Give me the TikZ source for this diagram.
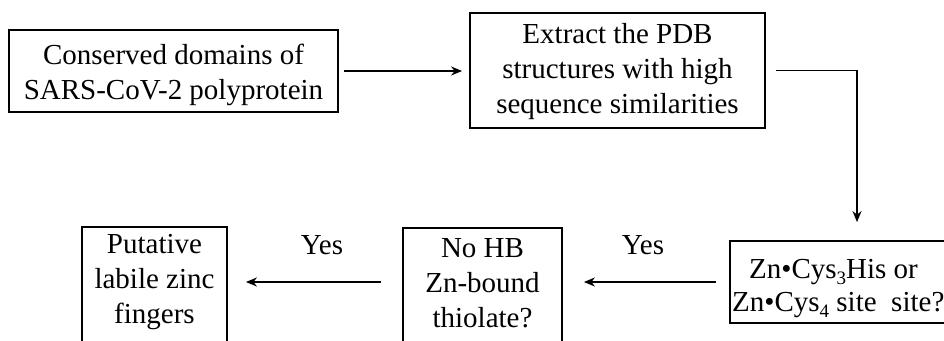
\documentclass[tikz,border=0pt]{standalone}
\usepackage{fontspec}
\setmainfont{Liberation Serif}
\usetikzlibrary{arrows.meta}
\newcommand{\lowsub}[1]{\raisebox{-0.22em}{\fontsize{19}{19}\selectfont #1}}
\tikzset{
  box/.style={draw, line width=1.8pt, rectangle, inner sep=0pt},
  txt/.style={align=center, inner sep=0pt, font=\fontsize{29}{35}\selectfont},
  arr/.style={line width=1.8pt, -{Stealth[length=11pt,width=9pt]}},
}
\begin{document}
\begin{tikzpicture}[x=1pt,y=-1pt]
\useasboundingbox (0,0) rectangle (944,340);
\clip (0,0) rectangle (944,340);
% boxes
\node[box, minimum width=329pt, minimum height=82pt] (b1) at (173.5,71) {};
\node[box, minimum width=295pt, minimum height=115pt] (b2) at (617.5,70.5) {};
\node[box, minimum width=254pt, minimum height=82pt] (b3) at (857,282) {};
\node[box, minimum width=159pt, minimum height=140pt] (b4) at (482.5,298) {};
\node[box, minimum width=145pt, minimum height=140pt] (b5) at (154.5,297) {};
% texts
\node[txt] (t1) at (173.5,75) {Conserved domains of\\SARS-CoV-2 polyprotein};
\node[txt] (t2) at (617.5,72) {Extract the PDB\\structures with high\\sequence similarities};
\node[txt, anchor=base west] (t3a) at (749,278) {Zn•Cys\lowsub{3}His or};
\node[txt, anchor=base west] (t3b) at (732,311) {Zn•Cys\lowsub{4} site~~site?};
\node[txt] (t4) at (482.5,283) {No HB\\Zn-bound\\thiolate?};
\node[txt] (t5) at (154.5,282) {Putative\\labile zinc\\fingers};
% connectors
\draw[arr, shorten <=5pt, shorten >=7pt] (b1.east) -- (b1.east -| b2.west);
\draw[arr, shorten <=10pt, shorten >=18pt] (b2.east) -| (b3.north);
\draw[arr, shorten <=13pt, shorten >=21pt] (b3.west) -- (b3.west -| b4.east);
\draw[arr, shorten <=21pt, shorten >=18pt] (b4.west |- b3.west) -- (b5.east |- b3.west);
% labels
\node[txt] (y1) at (643,245) {Yes};
\node[txt] (y2) at (322,245) {Yes};
\end{tikzpicture}
\end{document}
